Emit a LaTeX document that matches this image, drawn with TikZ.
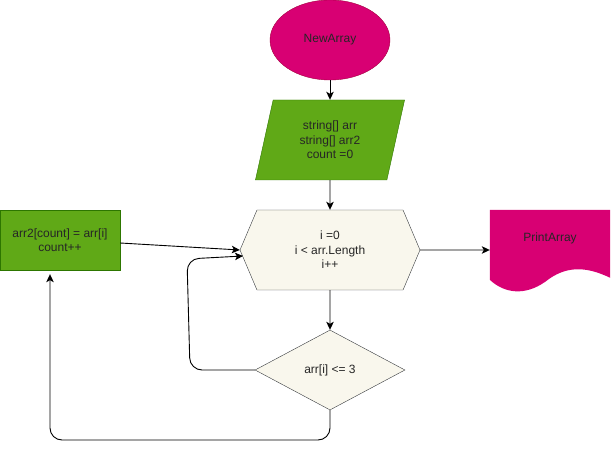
\documentclass[tikz,border=0pt]{standalone}
\usepackage{fontspec}
\setmainfont{Liberation Sans}
\usetikzlibrary{shapes.geometric,shapes.symbols,arrows.meta,calc}
\definecolor{pinkfill}{HTML}{D80073}
\definecolor{pinkline}{HTML}{A50040}
\definecolor{greenfill}{HTML}{60A917}
\definecolor{greenline}{HTML}{2D7600}
\definecolor{creamfill}{HTML}{F9F7ED}
\definecolor{creamline}{HTML}{36393D}
\begin{document}
\begin{tikzpicture}[x=1pt,y=-1pt,font=\fontsize{12}{14.5}\selectfont,
    flow/.style={->,>={Stealth[length=8pt,width=7.5pt,inset=2pt]},line width=0.9pt},
    every node/.style={text=black!85,align=center,inner sep=0pt}]
    \tikzstyle{terminal}=[ellipse,fill=pinkfill,draw=pinkline,minimum width=120pt,minimum height=80pt]
    \tikzstyle{io}=[trapezium,trapezium left angle=76,trapezium right angle=104,
        trapezium stretches=true,fill=greenfill,draw=greenline,minimum width=150pt,minimum height=80pt]
    \tikzstyle{prep}=[signal,signal to=west and east,signal pointer angle=134,
        fill=creamfill,draw=creamline,minimum width=180pt,minimum height=80pt]
    \tikzstyle{decision}=[diamond,fill=creamfill,draw=creamline,minimum width=150pt,minimum height=80pt]
    \tikzstyle{process}=[rectangle,fill=greenfill,draw=greenline,minimum width=120pt,minimum height=60pt]
    \tikzstyle{docbox}=[rectangle,minimum width=120pt,minimum height=80pt]

    \useasboundingbox (0,0) rectangle (611,449);

    \node[terminal] (start) at (330,40) {NewArray};
    \node[io] (vars) at (330,140) {string[] arr\\string[] arr2\\count =0};
    \node[prep] (loop) at (330,250) {i =0\\i < arr.Length\\i++};
    \node[decision] (cond) at (330,370) {arr[i] <= 3};
    \node[process] (body) at (60,240) {arr2[count] = arr[i]\\count++};

    % document shape for the output
    \node[docbox] (print) at (550,250) {};
    \fill[pinkfill] (print.north west) -- (print.north east)
        -- ($(print.north east)+(0,68)$)
        .. controls ($(print.north east)+(-25,56)$) and ($(print.north east)+(-45,56)$) .. ($(print.north east)+(-65,72)$)
        .. controls ($(print.north east)+(-85,86)$) and ($(print.north west)+(15,84)$) .. ($(print.north west)+(0,70)$)
        -- cycle;
    \node (printtext) at (550,238) {PrintArray};

    \coordinate (backbot) at (190,370);
    \coordinate (backtop) at (187,259);
    \coordinate (loopin) at (243,256);
    \coordinate (downbot) at (330,440);
    \coordinate (downleft) at (50,440);

    \draw[flow] (start) -- (vars);
    \draw[flow] (vars) -- (loop);
    \draw[flow] (loop) -- (print.west);
    \draw[flow] (loop) -- (cond);
    \draw[flow,rounded corners=12pt] (cond.west) -- (backbot) -- (backtop) -- (loopin);
    \draw[flow,rounded corners=12pt,shorten >=4pt] (cond.south) -- (downbot) -- (downleft) -- (body.south -| downleft);
    \draw[flow] ($(body.east)+(0,3)$) -- (loop.west);
\end{tikzpicture}
\end{document}
